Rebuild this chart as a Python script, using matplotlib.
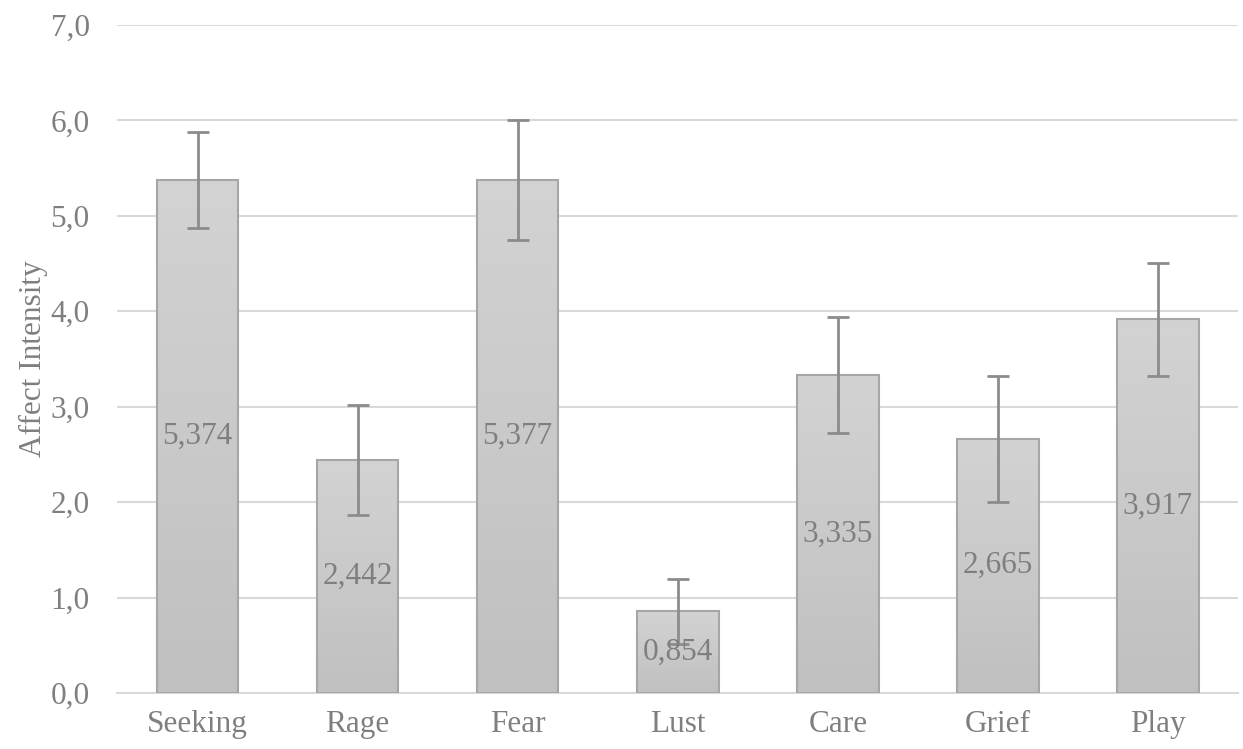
import matplotlib.pyplot as plt
import numpy as np

# Dados
categorias = ['Seeking', 'Rage', 'Fear', 'Lust', 'Care', 'Grief', 'Play']
valores = [5.374, 2.442, 5.377, 0.854, 3.335, 2.665, 3.917]
erros = [0.50, 0.58, 0.63, 0.34, 0.61, 0.66, 0.59]
rotulos_y = ['0,0', '1,0', '2,0', '3,0', '4,0', '5,0', '6,0', '7,0']

plt.rcParams['font.family'] = ['Liberation Serif', 'DejaVu Serif']
cinza_texto = '#7f7f7f'
tam = 22.5

fig = plt.figure(figsize=(12.43, 7.49), dpi=100)
ax = fig.add_axes([0.0945, 0.0748, 0.9015, 0.8918])

x = np.arange(len(categorias))

# Barras com borda; o preenchimento em degradê vem depois
barras = ax.bar(x, valores, width=0.51, facecolor='none', edgecolor='#a6a6a6',
                linewidth=1.5, zorder=3)

# Degradê vertical (mais claro em cima, mais escuro embaixo)
mapa = plt.matplotlib.colors.LinearSegmentedColormap.from_list('g', ['#c0c0c0', '#d3d3d3'])
grad = np.linspace(0, 1, 256).reshape(-1, 1)
for b in barras:
    x0, y0 = b.get_x(), b.get_y()
    w, h = b.get_width(), b.get_height()
    im = ax.imshow(grad, extent=[x0, x0 + w, y0, y0 + h], origin='lower',
                   cmap=mapa, aspect='auto', zorder=2)
    im.set_clip_path(b)

# Barras de erro
ax.errorbar(x, valores, yerr=erros, fmt='none', ecolor='#8c8c8c',
            elinewidth=2, capsize=8, capthick=2, zorder=4)

# Rótulos de dados no centro das barras
for xi, v in zip(x, valores):
    ax.text(xi, v / 2, f'{v:.3f}'.replace('.', ','), ha='center', va='center',
            fontsize=tam, color=cinza_texto, zorder=5)

ax.set_xlim(-0.5, len(categorias) - 0.5)
ax.set_ylim(0, 7)
ax.set_yticks(range(8))
ax.set_yticklabels(rotulos_y, fontsize=tam, color=cinza_texto)
ax.set_xticks(x)
ax.set_xticklabels(categorias, fontsize=tam, color=cinza_texto)
ax.tick_params(axis='both', length=0)
ax.tick_params(axis='y', pad=20)
ax.tick_params(axis='x', pad=12)

ax.set_ylabel('Affect Intensity', fontsize=tam, color=cinza_texto, labelpad=2)

ax.grid(axis='y', color='#d9d9d9', linewidth=1.5, zorder=0)
ax.set_axisbelow(True)
for lado in ['top', 'right', 'left']:
    ax.spines[lado].set_visible(False)
ax.spines['bottom'].set_color('#d9d9d9')
ax.spines['bottom'].set_linewidth(1.5)

fig.savefig('out.png', dpi=100)
